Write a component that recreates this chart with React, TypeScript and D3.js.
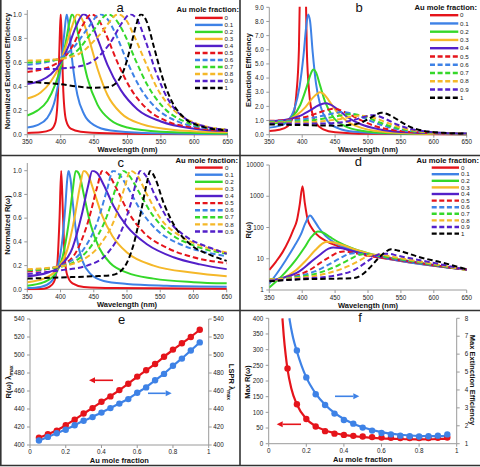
import React from "react";
import * as d3 from "d3";

type Pt = [number, number];

const FONT = "'Liberation Sans', Arial, Helvetica, sans-serif";

const fractionLabels = ["0", "0.1", "0.2", "0.3", "0.4", "0.5", "0.6", "0.7", "0.8", "0.9", "1"];
const seriesColors = ["#e5141b", "#3e82e6", "#35d82a", "#f5b829", "#5320c9", "#e5141b", "#3e82e6", "#35d82a", "#f5b829", "#5320c9", "#000000"];
const wavelengthTicks = [350, 400, 450, 500, 550, 600, 650];
const normTicks = [0, 0.2, 0.4, 0.6, 0.8, 1.0];
const extTicks = [0, 1, 2, 3, 4, 5, 6, 7, 8, 9];
const rTicks = [1, 10, 100, 1000, 10000];
const fracTicks = [0, 0.2, 0.4, 0.6, 0.8, 1];
const lambdaTicks = [400, 420, 440, 460, 480, 500, 520, 540];
const maxRTicks = [0, 50, 100, 150, 200, 250, 300, 350, 400];
const maxExtTicks = [1, 2, 3, 4, 5, 6, 7, 8];

// Panel a: normalized extinction efficiency
const specA: Pt[][] = [
  [[350,0.015],[370,0.02],[385,0.04],[392,0.1],[396,0.35],[398.5,0.8],[400,1],[401.5,0.8],[404,0.35],[408,0.12],[415,0.05],[430,0.025],[470,0.012],[550,0.006],[650,0.004]],
  [[350,0.06],[365,0.08],[380,0.14],[392,0.3],[400,0.55],[405,0.82],[409,1],[413,0.85],[418,0.58],[425,0.33],[435,0.17],[450,0.08],[475,0.035],[525,0.015],[650,0.006]],
  [[350,0.16],[365,0.2],[380,0.28],[392,0.42],[400,0.56],[408,0.78],[413,0.93],[417,1],[422,0.94],[430,0.72],[440,0.47],[455,0.25],[475,0.12],[500,0.06],[550,0.025],[650,0.01]],
  [[350,0.3],[370,0.35],[385,0.44],[397,0.56],[407,0.72],[417,0.9],[425,1],[432,0.96],[442,0.8],[455,0.55],[470,0.33],[490,0.18],[520,0.09],[570,0.04],[650,0.02]],
  [[350,0.42],[370,0.45],[385,0.5],[400,0.6],[412,0.74],[423,0.9],[434,1],[443,0.96],[455,0.8],[470,0.58],[490,0.37],[515,0.21],[550,0.11],[600,0.05],[650,0.03]],
  [[350,0.52],[370,0.54],[390,0.58],[405,0.64],[420,0.76],[432,0.9],[446,1],[456,0.96],[468,0.83],[485,0.6],[505,0.38],[530,0.21],[560,0.11],[600,0.06],[650,0.03]],
  [[350,0.58],[375,0.6],[400,0.64],[420,0.73],[440,0.88],[459,1],[470,0.96],[482,0.84],[500,0.6],[520,0.38],[545,0.21],[575,0.11],[610,0.06],[650,0.035]],
  [[350,0.6],[375,0.61],[400,0.63],[425,0.7],[448,0.86],[471,1],[482,0.96],[495,0.84],[512,0.62],[530,0.41],[555,0.22],[585,0.11],[620,0.06],[650,0.04]],
  [[350,0.615],[375,0.62],[400,0.63],[430,0.68],[460,0.84],[486,1],[497,0.96],[510,0.82],[527,0.6],[545,0.38],[570,0.2],[600,0.1],[650,0.04]],
  [[350,0.55],[375,0.545],[400,0.55],[430,0.57],[455,0.64],[475,0.77],[492,0.93],[504,1],[514,0.96],[527,0.78],[542,0.53],[560,0.3],[585,0.14],[615,0.07],[650,0.04]],
  [[350,0.44],[375,0.43],[400,0.42],[425,0.4],[450,0.39],[470,0.395],[485,0.44],[496,0.56],[506,0.76],[514,0.93],[520,1],[528,0.95],[540,0.72],[552,0.48],[567,0.27],[585,0.14],[610,0.07],[650,0.035]],
];

// Panel b: extinction efficiency
const specB: Pt[][] = [
  [[350,0.26],[365,0.35],[378,0.6],[386,1.3],[391,2.8],[395,6],[398,14],[401,25],[404,14],[407,6],[411,2.8],[416,1.4],[422,0.75],[432,0.38],[450,0.17],[500,0.06],[650,0.02]],
  [[350,0.5],[365,0.62],[378,0.95],[388,1.8],[396,3.4],[402,5.6],[406,7.6],[409,8.5],[412,8],[416,5.8],[421,3.6],[428,2],[438,1.0],[455,0.45],[480,0.2],[530,0.08],[650,0.03]],
  [[350,0.78],[370,0.88],[385,1.25],[397,2.1],[407,3.4],[413,4.3],[417,4.6],[421,4.4],[427,3.5],[435,2.3],[447,1.25],[465,0.6],[490,0.28],[540,0.1],[650,0.04]],
  [[350,0.9],[375,1.0],[392,1.4],[405,1.95],[416,2.6],[423,2.9],[427,3.0],[432,2.9],[440,2.45],[452,1.65],[468,0.95],[490,0.48],[520,0.22],[570,0.09],[650,0.05]],
  [[350,0.95],[375,1.05],[395,1.3],[412,1.72],[425,2.08],[435,2.22],[443,2.12],[455,1.75],[470,1.2],[490,0.72],[515,0.4],[550,0.19],[600,0.1],[650,0.06]],
  [[350,0.98],[380,1.05],[405,1.25],[425,1.55],[440,1.78],[447,1.83],[455,1.78],[470,1.48],[488,1.05],[510,0.62],[540,0.32],[580,0.15],[650,0.07]],
  [[350,0.95],[380,1.0],[410,1.15],[435,1.38],[452,1.55],[460,1.6],[470,1.55],[485,1.35],[505,0.95],[530,0.55],[560,0.28],[600,0.13],[650,0.07]],
  [[350,0.9],[385,0.93],[420,1.05],[450,1.28],[466,1.42],[473,1.45],[482,1.42],[497,1.25],[517,0.88],[540,0.52],[570,0.25],[610,0.12],[650,0.07]],
  [[350,0.85],[390,0.86],[430,0.95],[460,1.13],[478,1.3],[488,1.35],[497,1.32],[512,1.15],[530,0.83],[552,0.48],[580,0.23],[620,0.1],[650,0.07]],
  [[350,0.8],[400,0.78],[440,0.8],[470,0.95],[490,1.2],[500,1.34],[506,1.38],[514,1.33],[528,1.08],[545,0.7],[565,0.4],[595,0.19],[630,0.1],[650,0.08]],
  [[350,0.72],[400,0.68],[450,0.64],[475,0.7],[492,0.9],[505,1.22],[514,1.46],[520,1.55],[527,1.5],[538,1.25],[552,0.85],[567,0.5],[585,0.27],[615,0.13],[650,0.08]],
];

// Panel c: normalized R(ω)
const specC: Pt[][] = [
  [[350,0.0],[375,0.005],[383,0.02],[390,0.06],[395,0.2],[398.5,0.6],[401,1],[403.5,0.65],[406,0.3],[410,0.12],[418,0.05],[435,0.02],[480,0.01],[650,0.005]],
  [[350,0.01],[370,0.02],[385,0.06],[395,0.17],[402,0.38],[407,0.68],[410,0.92],[412,1],[415,0.93],[419,0.7],[425,0.42],[433,0.24],[445,0.13],[465,0.07],[500,0.045],[560,0.03],[650,0.022]],
  [[350,0.03],[375,0.06],[392,0.13],[403,0.27],[412,0.55],[418,0.82],[423,1],[428,0.97],[435,0.8],[445,0.55],[458,0.35],[475,0.22],[500,0.14],[540,0.09],[600,0.06],[650,0.05]],
  [[350,0.06],[375,0.09],[395,0.17],[410,0.33],[421,0.6],[429,0.86],[435,1],[441,0.97],[450,0.83],[462,0.63],[478,0.45],[500,0.31],[540,0.2],[600,0.14],[650,0.11]],
  [[350,0.11],[380,0.14],[400,0.2],[418,0.35],[432,0.63],[441,0.86],[448,1],[455,0.98],[465,0.88],[480,0.7],[500,0.53],[530,0.38],[570,0.27],[610,0.21],[650,0.17]],
  [[350,0.15],[380,0.17],[405,0.21],[425,0.33],[443,0.6],[455,0.86],[463,1],[472,0.97],[485,0.84],[502,0.65],[525,0.48],[560,0.35],[600,0.27],[650,0.22]],
  [[350,0.16],[385,0.18],[410,0.22],[435,0.34],[455,0.56],[470,0.84],[479,1],[488,0.97],[502,0.85],[520,0.67],[545,0.5],[580,0.38],[620,0.31],[650,0.28]],
  [[350,0.16],[390,0.18],[420,0.23],[448,0.38],[470,0.62],[486,0.9],[494,1],[503,0.96],[518,0.82],[538,0.63],[565,0.47],[600,0.37],[650,0.3]],
  [[350,0.17],[395,0.19],[430,0.24],[460,0.38],[482,0.6],[497,0.87],[505,1],[514,0.97],[530,0.8],[550,0.6],[580,0.45],[615,0.36],[650,0.31]],
  [[350,0.13],[400,0.16],[440,0.2],[470,0.3],[492,0.5],[507,0.75],[515,0.93],[520,1],[528,0.96],[543,0.78],[563,0.58],[590,0.44],[625,0.35],[650,0.3]],
  [[350,0.09],[400,0.1],[450,0.11],[478,0.12],[495,0.18],[510,0.38],[522,0.68],[530,0.9],[535,1],[542,0.94],[555,0.73],[572,0.53],[595,0.38],[625,0.29],[650,0.24]],
];

// Panel d: R(ω), log scale
const specD: Pt[][] = [
  [[350,4.4],[360,8],[370,16],[380,40],[386,80],[392,170],[396,500],[400.5,2100],[404,600],[408,190],[414,100],[422,60],[435,38],[455,25],[500,13],[550,8.5],[600,6],[650,4.5]],
  [[350,1.6],[362,3.5],[375,9],[388,25],[398,60],[405,140],[412,240],[418,170],[425,100],[435,55],[450,32],[475,19],[500,13.5],[550,8.5],[600,6],[650,4.5]],
  [[350,1.2],[362,2],[375,3.8],[390,9],[403,22],[414,50],[424,75],[432,68],[442,50],[455,34],[475,22],[500,15],[550,9.3],[600,6.2],[650,4.5]],
  [[350,1.9],[370,2.4],[390,4.2],[405,8.5],[420,19],[430,30],[437,35],[448,33],[462,27],[480,20],[505,14],[550,9.5],[600,6.3],[650,4.5]],
  [[350,2.0],[375,2.6],[395,3.9],[412,7.5],[428,14],[440,21],[447,23],[458,22],[475,18],[500,13.5],[530,10.5],[570,7.8],[610,5.8],[650,4.5]],
  [[350,2.1],[385,2.7],[410,4.2],[428,7.5],[445,12.5],[457,16.5],[463,17],[475,16],[495,13],[520,11],[560,8.3],[605,6],[650,4.5]],
  [[350,2.2],[390,2.7],[420,4],[440,6.5],[458,10.5],[470,14],[478,15],[490,14.5],[510,12.5],[540,10],[580,7.5],[620,5.6],[650,4.5]],
  [[350,2.2],[395,2.6],[430,3.8],[455,6.2],[473,9.8],[485,13],[492,14],[503,13.7],[522,12],[550,9.6],[590,7],[650,4.4]],
  [[350,2.2],[400,2.5],[440,3.5],[470,5.8],[490,9.5],[500,12.5],[506,13.5],[517,13.5],[535,11.8],[560,9.5],[600,6.8],[650,4.3]],
  [[350,2.0],[400,2.3],[450,2.9],[480,4.5],[500,8.5],[512,12.5],[520,14.5],[530,14.5],[545,12.5],[570,9.8],[605,7],[650,4.4]],
  [[350,1.9],[400,2.2],[450,2.3],[478,2.4],[490,3],[502,5],[515,10],[525,15.5],[535,20],[545,18.5],[560,15],[580,11],[610,7.8],[650,4.6]],
];

// Panel e
const fracE = [0.05,0.1,0.15,0.2,0.25,0.3,0.35,0.4,0.45,0.5,0.55,0.6,0.65,0.7,0.75,0.8,0.85,0.9,0.95];
const rwLambdaMax = [408,412,416,422,428,435,441,448,454,461,468,476,483,490,498,506,513,520,528];
const lsprLambdaMax = [405,409,413,417,422,427,431,436,441,446,451,458,464,472,479,488,496,505,514];

// Panel f
const fracFRed = [0.1,0.15,0.2,0.25,0.3,0.35,0.4,0.45,0.5,0.55,0.6,0.65,0.7,0.75,0.8,0.85,0.9,0.95];
const maxR = [240,126,79,55,40,32,28,25,23,21,20,19,18,18,18,18,19,20];
const fracFBlue = [0.15,0.2,0.25,0.3,0.35,0.4,0.45,0.5,0.55,0.6,0.65,0.7,0.75,0.8,0.85,0.9,0.95];
const maxExt = [6.2,4.7,3.76,3.16,2.68,2.32,2.12,1.9,1.73,1.6,1.52,1.45,1.42,1.4,1.42,1.45,1.52];
const fitRedX = [0.073,0.08,0.09,0.1,0.12,0.15,0.2,0.25,0.3,0.35,0.4,0.5,0.6,0.7,0.8,0.9,0.95];
const fitRedY = [400,345,285,238,177,125,79,56,42,34,28,21,17,15,14,15,16];
const fitBlueX = [0.11,0.12,0.13,0.15,0.2,0.25,0.3,0.35,0.4,0.45,0.5,0.6,0.7,0.8,0.9,0.95];
const fitBlueY = [8,7.4,6.9,6.15,4.7,3.8,3.18,2.72,2.38,2.12,1.92,1.65,1.5,1.43,1.42,1.44];

const RED = "#e5141b";
const BLUE = "#3e82e6";
const AXIS = "#9a9a9a";
const TXT = "#222";
const TICK_FS = 6.3;
const TITLE_FS = 7.5;

type Scale = (v: number) => number;

function YAxisLeft({ y, ticks, x, top, bottom, fmt }: { y: Scale; ticks: number[]; x: number; top: number; bottom: number; fmt: (v: number) => string }) {
  return (
    <g>
      <line x1={x} x2={x} y1={top} y2={bottom} stroke={AXIS} strokeWidth={1} />
      {ticks.map((t, i) => (
        <g key={i}>
          <line x1={x - 3} x2={x} y1={y(t)} y2={y(t)} stroke={AXIS} strokeWidth={1} />
          <text x={x - 5.5} y={y(t)} dy="0.35em" textAnchor="end" fontSize={TICK_FS} fill={TXT} fontFamily={FONT}>{fmt(t)}</text>
        </g>
      ))}
    </g>
  );
}

function YAxisRight({ y, ticks, x, top, bottom, fmt, gap }: { y: Scale; ticks: number[]; x: number; top: number; bottom: number; fmt: (v: number) => string; gap: number }) {
  return (
    <g>
      <line x1={x} x2={x} y1={top} y2={bottom} stroke={AXIS} strokeWidth={1} />
      {ticks.map((t, i) => (
        <g key={i}>
          <line x1={x} x2={x + 3} y1={y(t)} y2={y(t)} stroke={AXIS} strokeWidth={1} />
          <text x={x + gap} y={y(t)} dy="0.35em" textAnchor="start" fontSize={TICK_FS} fill={TXT} fontFamily={FONT}>{fmt(t)}</text>
        </g>
      ))}
    </g>
  );
}

function XAxis({ x, ticks, y, labelY, fmt, left, right }: { x: Scale; ticks: number[]; y: number; labelY: number; fmt: (v: number) => string; left: number; right: number }) {
  return (
    <g>
      <line x1={left} x2={right} y1={y} y2={y} stroke={AXIS} strokeWidth={1} />
      {ticks.map((t, i) => (
        <g key={i}>
          <line x1={x(t)} x2={x(t)} y1={y} y2={y + 3} stroke={AXIS} strokeWidth={1} />
          <text x={x(t)} y={labelY} dy="0.35em" textAnchor="middle" fontSize={TICK_FS} fill={TXT} fontFamily={FONT}>{fmt(t)}</text>
        </g>
      ))}
    </g>
  );
}

function Arrow({ x1, x2, y, color }: { x1: number; x2: number; y: number; color: string }) {
  const dir = x2 > x1 ? 1 : -1;
  const hx = x2 - dir * 6;
  return (
    <g>
      <line x1={x1} x2={hx} y1={y} y2={y} stroke={color} strokeWidth={1.6} />
      <path d={`M${x2},${y} L${hx},${y - 3} L${hx},${y + 3} Z`} fill={color} />
    </g>
  );
}

type LegendCfg = { titleRight: number; titleY: number; row0: number; dy: number; x1: number; x2: number; labelX: number; n: number };

function Legend({ cfg }: { cfg: LegendCfg }) {
  return (
    <g fontFamily={FONT}>
      <text x={cfg.titleRight} y={cfg.titleY} dy="0.35em" textAnchor="end" fontSize={7.6} fontWeight="bold" fill="#111">Au mole fraction:</text>
      {fractionLabels.slice(0, cfg.n).map((lab, i) => {
        const yy = cfg.row0 + i * cfg.dy;
        return (
          <g key={i}>
            <line x1={cfg.x1} x2={cfg.x2} y1={yy} y2={yy} stroke={seriesColors[i]} strokeWidth={2.4} strokeDasharray={i >= 5 ? "5,2.6" : undefined} />
            <text x={cfg.labelX} y={yy} dy="0.35em" fontSize={6.2} fill={TXT}>{lab}</text>
          </g>
        );
      })}
    </g>
  );
}

type SpecCfg = {
  id: string;
  data: Pt[][];
  xr: [number, number];
  y: any;
  yTicks: number[];
  yFmt: (v: number) => string;
  axisTop: number;
  yTitle: string;
  yTitleX: number;
  yTitleY: number;
  letter: string;
  letterX: number;
  letterY: number;
  legend: LegendCfg;
};

function SpectraPanel({ c }: { c: SpecCfg }) {
  const x = d3.scaleLinear().domain([350, 650]).range(c.xr);
  const yDom = c.y.domain();
  const bottom = c.y(yDom[0]);
  const line = d3.line<Pt>().x((d) => x(d[0])).y((d) => c.y(d[1])).curve(d3.curveMonotoneX);
  return (
    <g>
      <defs>
        <clipPath id={`clip-${c.id}`}>
          <rect x={c.xr[0]} y={c.y(yDom[1]) - 0.5} width={c.xr[1] - c.xr[0] + 2} height={bottom - c.y(yDom[1]) + 1.5} />
        </clipPath>
      </defs>
      <YAxisLeft y={c.y} ticks={c.yTicks} x={c.xr[0]} top={c.axisTop} bottom={bottom} fmt={c.yFmt} />
      <XAxis x={x} ticks={wavelengthTicks} y={bottom} labelY={bottom + 7.3} fmt={(v) => String(v)} left={c.xr[0]} right={c.xr[1]} />
      <text x={(c.xr[0] + c.xr[1]) / 2} y={bottom + 15} dy="0.35em" textAnchor="middle" fontSize={TITLE_FS} fontWeight="bold" fontFamily={FONT} fill="#111">Wavelength (nm)</text>
      <text transform={`translate(${c.yTitleX},${c.yTitleY}) rotate(-90)`} dy="0.35em" textAnchor="middle" fontSize={TITLE_FS} fontWeight="bold" fontFamily={FONT} fill="#111">{c.yTitle}</text>
      <g clipPath={`url(#clip-${c.id})`}>
        {c.data.map((s, i) => (
          <path key={i} d={line(s) || ""} fill="none" stroke={seriesColors[i]} strokeWidth={2} strokeDasharray={i >= 5 ? "5.5,3" : undefined} strokeLinejoin="round" />
        ))}
      </g>
      <text x={c.letterX} y={c.letterY} textAnchor="middle" fontSize={13} fontFamily={FONT} fill="#111">{c.letter}</text>
      <Legend cfg={c.legend} />
    </g>
  );
}

export default function App() {
  const panels: SpecCfg[] = [
    {
      id: "a", data: specA, xr: [27.3, 227.7], y: d3.scaleLinear().domain([0, 1]).range([134.7, 14.3]),
      yTicks: normTicks, yFmt: d3.format(".1f"), axisTop: 10, yTitle: "Normalized Extinction Efficiency",
      yTitleX: 7, yTitleY: 71, letter: "a", letterX: 120, letterY: 11.7,
      legend: { titleRight: 239, titleY: 9.8, row0: 17.9, dy: 7.01, x1: 195, x2: 222.7, labelX: 224.5, n: 11 },
    },
    {
      id: "b", data: specB, xr: [269.3, 466.7], y: d3.scaleLinear().domain([0, 9]).range([134.7, 7.3]),
      yTicks: extTicks, yFmt: d3.format(".1f"), axisTop: 7.3, yTitle: "Extinction Efficiency",
      yTitleX: 248, yTitleY: 70, letter: "b", letterX: 359, letterY: 11.7,
      legend: { titleRight: 477, titleY: 7.5, row0: 15.2, dy: 8.25, x1: 430, x2: 458.3, labelX: 460, n: 11 },
    },
    {
      id: "c", data: specC, xr: [27.3, 226.7], y: d3.scaleLinear().domain([0, 1]).range([289.3, 170.7]),
      yTicks: normTicks, yFmt: d3.format(".1f"), axisTop: 163, yTitle: "Normalized R(ω)",
      yTitleX: 7, yTitleY: 225, letter: "c", letterX: 120.7, letterY: 166.7,
      legend: { titleRight: 238, titleY: 160.2, row0: 167.6, dy: 7.1, x1: 195, x2: 222.7, labelX: 225, n: 10 },
    },
    {
      id: "d", data: specD, xr: [269.3, 466.7], y: d3.scaleLog().domain([1, 10000]).range([290, 165]),
      yTicks: rTicks, yFmt: (v) => String(v), axisTop: 165, yTitle: "R(ω)",
      yTitleX: 248, yTitleY: 230, letter: "d", letterX: 358.3, letterY: 166,
      legend: { titleRight: 479, titleY: 160.2, row0: 167.6, dy: 6.6, x1: 431.7, x2: 459, labelX: 461, n: 11 },
    },
  ];

  // Panel e scales
  const xe = d3.scaleLinear().domain([0, 1]).range([30, 208.7]);
  const ye = d3.scaleLinear().domain([400, 540]).range([445, 319]);
  const redE: Pt[] = fracE.map((f, i) => [xe(f), ye(rwLambdaMax[i])]);
  const blueE: Pt[] = fracE.map((f, i) => [xe(f), ye(lsprLambdaMax[i])]);
  const lineXY = d3.line<Pt>().x((d) => d[0]).y((d) => d[1]).curve(d3.curveBasis);

  // Panel f scales
  const xf = d3.scaleLinear().domain([0, 1]).range([268.7, 456.7]);
  const yfL = d3.scaleLinear().domain([0, 400]).range([443.7, 318.3]);
  const yfR = d3.scaleLinear().domain([1, 8]).range([443.7, 318.3]);
  const lineMono = d3.line<Pt>().x((d) => d[0]).y((d) => d[1]).curve(d3.curveMonotoneX);
  const redFit: Pt[] = fitRedX.map((f, i) => [xf(f), yfL(fitRedY[i])]);
  const blueFit: Pt[] = fitBlueX.map((f, i) => [xf(f), yfR(fitBlueY[i])]);

  const fracFmt = (v: number) => (v === 0 ? "0" : v === 1 ? "1" : String(v));

  return (
    <svg width={480} height={467} style={{ position: "absolute", left: 0, top: 0, background: "#fff" }} fontFamily={FONT}>
      <rect x={0} y={0} width={480} height={467} fill="#fff" />
      {panels.map((p) => (
        <SpectraPanel key={p.id} c={p} />
      ))}

      {/* Panel e */}
      <g>
        <YAxisLeft y={ye} ticks={lambdaTicks} x={xe(0)} top={ye(540)} bottom={ye(400)} fmt={(v) => String(v)} />
        <YAxisRight y={ye} ticks={lambdaTicks} x={xe(1)} top={ye(540)} bottom={ye(400)} fmt={(v) => String(v)} gap={4.5} />
        <XAxis x={xe} ticks={fracTicks} y={ye(400)} labelY={451.7} fmt={fracFmt} left={xe(0)} right={xe(1)} />
        <text x={(xe(0) + xe(1)) / 2} y={460} dy="0.35em" textAnchor="middle" fontSize={TITLE_FS} fontWeight="bold" fill="#111">Au mole fraction</text>
        <text transform={`translate(8,382) rotate(-90)`} dy="0.35em" textAnchor="middle" fontSize={TITLE_FS} fontWeight="bold" fill="#111">
          R(ω) λ<tspan fontSize={5} dy={2}>max</tspan>
        </text>
        <text transform={`translate(232,382) rotate(90)`} dy="0.35em" textAnchor="middle" fontSize={TITLE_FS} fontWeight="bold" fill="#111">
          LSPR λ<tspan fontSize={5} dy={2}>max</tspan>
        </text>
        <path d={lineXY(redE) || ""} fill="none" stroke={RED} strokeWidth={2.2} />
        <path d={lineXY(blueE) || ""} fill="none" stroke={BLUE} strokeWidth={2.2} />
        {redE.map((p, i) => <circle key={"re" + i} cx={p[0]} cy={p[1]} r={3.2} fill={RED} />)}
        {blueE.map((p, i) => <circle key={"be" + i} cx={p[0]} cy={p[1]} r={3.2} fill={BLUE} />)}
        <Arrow x1={113} x2={89} y={380.3} color={RED} />
        <Arrow x1={148} x2={171.7} y={393.3} color={BLUE} />
        <text x={121.7} y={324} textAnchor="middle" fontSize={13} fill="#111">e</text>
      </g>

      {/* Panel f */}
      <g>
        <YAxisLeft y={yfL} ticks={maxRTicks} x={xf(0)} top={yfL(400)} bottom={yfL(0)} fmt={(v) => String(v)} />
        <YAxisRight y={yfR} ticks={maxExtTicks} x={xf(1)} top={yfR(8)} bottom={yfR(1)} fmt={(v) => String(v)} gap={8} />
        <XAxis x={xf} ticks={fracTicks} y={yfL(0)} labelY={450.7} fmt={fracFmt} left={xf(0)} right={xf(1)} />
        <text x={(xf(0) + xf(1)) / 2} y={459} dy="0.35em" textAnchor="middle" fontSize={TITLE_FS} fontWeight="bold" fill="#111">Au mole fraction</text>
        <text transform={`translate(247,382) rotate(-90)`} dy="0.35em" textAnchor="middle" fontSize={TITLE_FS} fontWeight="bold" fill="#111">Max R(ω)</text>
        <text transform={`translate(473,380) rotate(90)`} dy="0.35em" textAnchor="middle" fontSize={TITLE_FS} fontWeight="bold" fill="#111">Max Extinction Efficiency</text>
        <path d={lineMono(redFit) || ""} fill="none" stroke={RED} strokeWidth={2.2} />
        <path d={lineMono(blueFit) || ""} fill="none" stroke={BLUE} strokeWidth={2.2} />
        {fracFRed.map((f, i) => <circle key={"rf" + i} cx={xf(f)} cy={yfL(maxR[i])} r={3.2} fill={RED} />)}
        {fracFBlue.map((f, i) => <circle key={"bf" + i} cx={xf(f)} cy={yfR(maxExt[i])} r={3.2} fill={BLUE} />)}
        <Arrow x1={301} x2={276.7} y={424.3} color={RED} />
        <Arrow x1={335} x2={359.3} y={396.3} color={BLUE} />
        <text x={360} y={321.5} textAnchor="middle" fontSize={13} fill="#111">f</text>
      </g>

      {/* panel frames */}
      <g stroke="#333" strokeWidth={1.6}>
        <line x1={0.8} x2={0.8} y1={0} y2={466} />
        <line x1={240} x2={240} y1={0} y2={466} />
        <line x1={0} x2={480} y1={155.5} y2={155.5} />
        <line x1={0} x2={480} y1={310.5} y2={310.5} />
        <line x1={0} x2={480} y1={465.5} y2={465.5} />
      </g>
    </svg>
  );
}
